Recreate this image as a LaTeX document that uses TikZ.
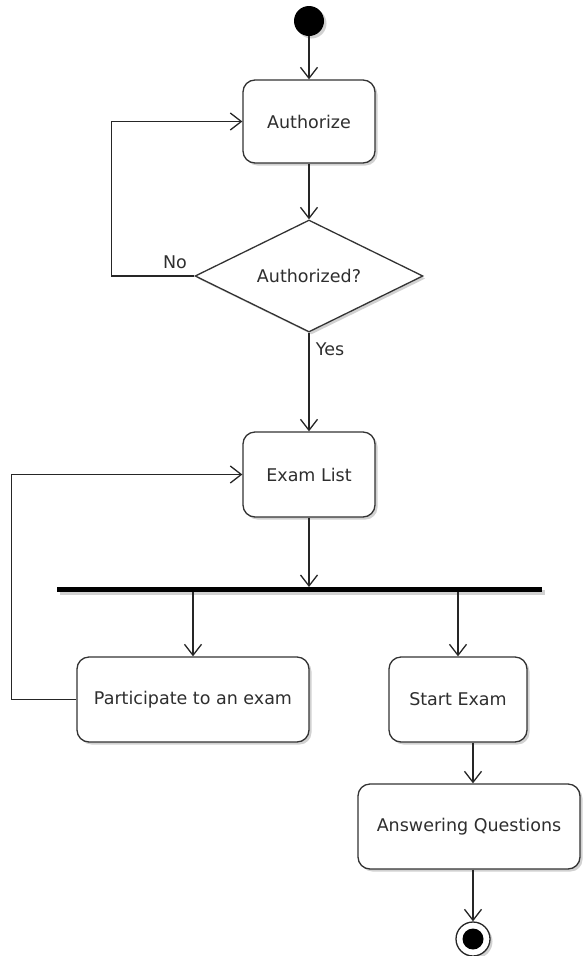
\documentclass[tikz,border=0pt]{standalone}
\usepackage{fontspec}
\setmainfont{DejaVu Sans}
\usetikzlibrary{arrows.meta,shapes.geometric,shadows}
\begin{document}
\begin{tikzpicture}[x=1pt,y=-1pt,
  every node/.style={font=\fontsize{17.5}{20}\selectfont, text=black!82},
  shad/.style={drop shadow={opacity=0.3,shadow xshift=2.5pt,shadow yshift=-2.5pt,fill=black!60}},
  act/.style={draw=black!80, line width=1.3pt, rounded corners=12pt, fill=white, shad, minimum height=85pt, inner sep=0pt},
  arr/.style={draw=black!85, line width=1.3pt, -{Straight Barb[length=11pt,width=17pt,line width=1.3pt]}},
  ln/.style={draw=black!85, line width=1.3pt}]
\useasboundingbox (0,0) rectangle (582,956);
\node[circle, fill=black, minimum size=30pt, inner sep=0pt, shad] (start) at (309,21) {};
\node[act, minimum width=132pt, minimum height=83pt] (auth) at (309,121.5) {Authorize};
\node[diamond, draw=black!80, line width=1.3pt, fill=white, shad, aspect=2.04, minimum width=228pt, minimum height=112pt, inner sep=0pt] (dec) at (309,276) {Authorized?};
\node[act, minimum width=132pt] (exam) at (309,474.5) {Exam List};
\node[fill=black, minimum width=485pt, minimum height=5pt, inner sep=0pt, shad] (bar) at (299.5,589.5) {};
\node[act, minimum width=232pt] (part) at (193,699.5) {Participate to an exam};
\node[act, minimum width=138pt] (se) at (458,699.5) {Start Exam};
\node[act, minimum width=222pt] (aq) at (469,826.5) {Answering Questions};
\node[circle, draw=black!85, line width=1.3pt, fill=white, minimum size=34pt, inner sep=0pt, shad] (end) at (473,939) {};
\node[circle, fill=black, minimum size=21pt, inner sep=0pt] (endin) at (end) {};
\node[anchor=center] (no) at (175,262) {No};
\node[anchor=center] (yes) at (330,349) {Yes};
\coordinate (c1) at (309,587);
\draw[arr] (start) -- (auth);
\draw[arr] (auth) -- (dec);
\draw[arr] (dec.west) -- ++(-83,0) |- (auth.west);
\draw[arr] (dec.south) -- (exam.north);
\draw[arr] (exam.south) -- (c1);
\draw[arr] (part.north |- bar.south) -- (part.north);
\draw[arr] (se.north |- bar.south) -- (se.north);
\draw[arr] (part.west) -- ++(-65,0) |- (exam.west);
\draw[arr] (se.south -| end) -- (aq.north -| end);
\draw[arr] (aq.south -| end) -- (end);
\end{tikzpicture}
\end{document}
